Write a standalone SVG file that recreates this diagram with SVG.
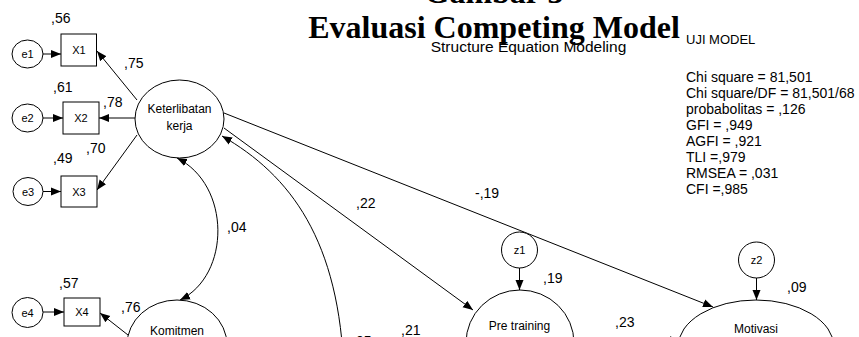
<svg xmlns="http://www.w3.org/2000/svg" width="859" height="337" viewBox="0 0 859 337">
<defs>
<style>
.t{font-family:"Liberation Sans",Arial,sans-serif;fill:#000}
.lbl{font-size:14px}
.nd{font-size:12px;text-anchor:middle}
.sm{font-size:11px;text-anchor:middle}
.sh{fill:#fff;stroke:#000;stroke-width:1}
.ln{fill:none;stroke:#000;stroke-width:1}
.ttl{font-family:"Liberation Serif","Times New Roman",serif;font-weight:bold;font-size:32px;text-anchor:middle}
</style>
<marker id="ah" viewBox="0 0 10 10" refX="10" refY="5" markerWidth="10" markerHeight="10" markerUnits="userSpaceOnUse" orient="auto-start-reverse">
<path d="M0,1 L10,5 L0,9 Z" fill="#000"/>
</marker>
</defs>
<rect width="859" height="337" fill="#fff"/>

<g id="title">
<text class="ttl" x="494" y="3">Gambar 3</text>
<text class="ttl" x="494" y="38">Evaluasi Competing Model</text>
<text class="t" x="528.5" y="52" style="font-size:15.5px;text-anchor:middle">Structure Equation Modeling</text>
</g>

<g id="fit" class="t lbl">
<text x="686" y="44" style="font-size:13px">UJI MODEL</text>
<text x="686" y="82">Chi square = 81,501</text>
<text x="686" y="98">Chi square/DF = 81,501/68</text>
<text x="686" y="114">probabolitas = ,126</text>
<text x="686" y="130">GFI = ,949</text>
<text x="686" y="146">AGFI = ,921</text>
<text x="686" y="162">TLI =,979</text>
<text x="686" y="178">RMSEA = ,031</text>
<text x="686" y="194">CFI =,985</text>
</g>

<g id="connectors">
<line class="ln" x1="43" y1="54" x2="61" y2="54" marker-end="url(#ah)"/>
<line class="ln" x1="43" y1="118" x2="63" y2="118" marker-end="url(#ah)"/>
<line class="ln" x1="43" y1="191.5" x2="61" y2="191.5" marker-end="url(#ah)"/>
<line class="ln" x1="43" y1="312" x2="64" y2="312" marker-end="url(#ah)"/>
<line class="ln" x1="137" y1="100" x2="97" y2="51" marker-end="url(#ah)"/>
<line class="ln" x1="135" y1="118" x2="99" y2="118" marker-end="url(#ah)"/>
<line class="ln" x1="137" y1="135" x2="97" y2="190" marker-end="url(#ah)"/>
<line class="ln" x1="128" y1="335" x2="100" y2="313" marker-end="url(#ah)"/>
<path class="ln" d="M177,158 C231,185 231,275 180,300" marker-start="url(#ah)" marker-end="url(#ah)"/>
<path class="ln" d="M222,136 C290,175 340,240 344,375" marker-start="url(#ah)"/>
<line class="ln" x1="224" y1="128" x2="473" y2="310" marker-end="url(#ah)"/>
<line class="ln" x1="224" y1="113" x2="713" y2="307" marker-end="url(#ah)"/>
<line class="ln" x1="519.5" y1="268" x2="519.5" y2="290" marker-end="url(#ah)"/>
<line class="ln" x1="756.5" y1="278" x2="756.5" y2="300" marker-end="url(#ah)"/>
<line class="ln" x1="573" y1="343" x2="680" y2="340" marker-end="url(#ah)"/>
</g>

<g id="e1"><ellipse class="sh" cx="27.5" cy="54" rx="15.5" ry="14"/><text class="t sm" x="27.5" y="58">e1</text></g>
<g id="e2"><ellipse class="sh" cx="27.5" cy="118" rx="15.5" ry="14"/><text class="t sm" x="27.5" y="122">e2</text></g>
<g id="e3"><ellipse class="sh" cx="28" cy="191.5" rx="15" ry="14"/><text class="t sm" x="28" y="195.5">e3</text></g>
<g id="e4"><ellipse class="sh" cx="27.5" cy="312.5" rx="15.5" ry="15"/><text class="t sm" x="27.5" y="316.5">e4</text></g>

<g id="X1"><rect class="sh" x="61" y="34" width="35.5" height="32"/><text class="t sm" x="79" y="54">X1</text></g>
<g id="X2"><rect class="sh" x="63" y="102" width="36" height="32"/><text class="t sm" x="81" y="122">X2</text></g>
<g id="X3"><rect class="sh" x="61" y="176" width="36" height="31"/><text class="t sm" x="79" y="195.5">X3</text></g>
<g id="X4"><rect class="sh" x="64" y="298" width="36" height="28"/><text class="t sm" x="82" y="316">X4</text></g>

<g id="keterlibatan"><ellipse class="sh" cx="179.5" cy="119" rx="44.5" ry="39"/><text class="t nd" x="179.5" y="113">Keterlibatan</text><text class="t nd" x="179.5" y="130">kerja</text></g>
<g id="komitmen"><ellipse class="sh" cx="177" cy="345" rx="50" ry="45"/><text class="t nd" x="177" y="335">Komitmen</text></g>
<g id="z1"><circle class="sh" cx="519.5" cy="250" r="18"/><text class="t sm" x="519.5" y="254">z1</text></g>
<g id="pretraining"><ellipse class="sh" cx="520" cy="343" rx="54" ry="53"/><text class="t nd" x="519.5" y="330">Pre training</text></g>
<g id="z2"><circle class="sh" cx="756.5" cy="260" r="18"/><text class="t sm" x="756.5" y="264">z2</text></g>
<g id="motivasi"><ellipse class="sh" cx="756" cy="347" rx="78" ry="47"/><text class="t nd" x="756" y="333">Motivasi</text></g>

<g id="labels" class="t lbl">
<text x="51" y="23">,56</text>
<text x="124" y="68">,75</text>
<text x="53" y="92">,61</text>
<text x="103" y="107">,78</text>
<text x="86" y="153">,70</text>
<text x="53" y="163">,49</text>
<text x="59" y="288">,57</text>
<text x="121" y="312">,76</text>
<text x="227" y="232">,04</text>
<text x="356" y="208">,22</text>
<text x="475" y="198">-,19</text>
<text x="543" y="283">,19</text>
<text x="401" y="335">,21</text>
<text x="352" y="346">,05</text>
<text x="615" y="327">,23</text>
<text x="787" y="292">,09</text>
</g>
</svg>
